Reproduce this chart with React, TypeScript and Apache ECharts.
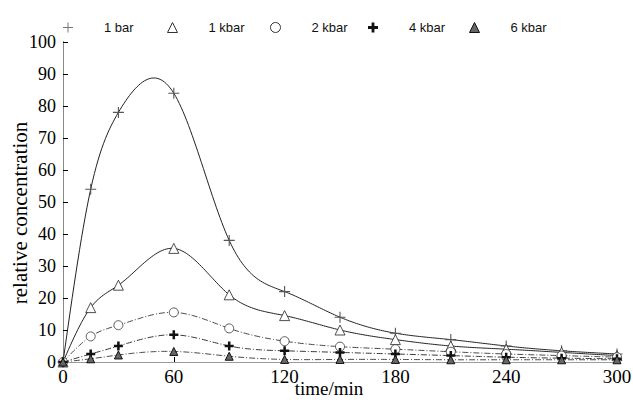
import React, { useEffect, useRef } from "react";
import * as echarts from "echarts";

const times = [0, 15, 30, 60, 90, 120, 150, 180, 210, 240, 270, 300];
const bar1 = [0, 54, 78, 84, 38, 22, 14, 9, 7, 5, 3.5, 2.5];
const kbar1 = [0, 17, 24, 35.5, 21, 14.5, 10, 7, 5, 4, 3, 2];
const kbar2 = [0, 8, 11.5, 15.5, 10.5, 6.5, 4.8, 4, 3.2, 2.5, 2, 1.5];
const kbar4 = [0, 2.5, 5, 8.5, 5, 3.5, 3, 2.5, 2, 1.5, 1.2, 1];
const kbar6 = [0, 1, 2.2, 3.3, 1.8, 0.8, 0.8, 0.8, 0.7, 0.7, 0.7, 0.7];
const seriesNames = ["1 bar", "1 kbar", "2 kbar", "4 kbar", "6 kbar"];
const xName = "time/min";
const yName = "relative concentration";

const PLUS = "path://M4.5,0H5.5V4.5H10V5.5H5.5V10H4.5V5.5H0V4.5H4.5Z";
const BOLDPLUS = "path://M3.6,0H6.4V3.6H10V6.4H6.4V10H3.6V6.4H0V3.6H3.6Z";

const pairs = (vals: number[]) => times.map((t, i) => [t, vals[i]]);

// natural cubic spline through the data points (drawing only)
function makeSpline(xs: number[], ys: number[]) {
  const n = xs.length;
  const h: number[] = [];
  for (let i = 0; i < n - 1; i++) h.push(xs[i + 1] - xs[i]);
  const M = new Array(n).fill(0);
  const a: number[] = [], b: number[] = [], c: number[] = [], d: number[] = [];
  for (let i = 1; i < n - 1; i++) {
    a.push(h[i - 1]);
    b.push(2 * (h[i - 1] + h[i]));
    c.push(h[i]);
    d.push(6 * ((ys[i + 1] - ys[i]) / h[i] - (ys[i] - ys[i - 1]) / h[i - 1]));
  }
  const m = b.length;
  for (let i = 1; i < m; i++) {
    const w = a[i] / b[i - 1];
    b[i] -= w * c[i - 1];
    d[i] -= w * d[i - 1];
  }
  const sol = new Array(m).fill(0);
  for (let i = m - 1; i >= 0; i--) {
    sol[i] = (d[i] - (i < m - 1 ? c[i] * sol[i + 1] : 0)) / b[i];
  }
  for (let i = 0; i < m; i++) M[i + 1] = sol[i];
  return (x: number) => {
    let i = 0;
    while (i < n - 2 && x > xs[i + 1]) i++;
    const hh = h[i];
    const A = xs[i + 1] - x;
    const B = x - xs[i];
    return (
      (M[i] * A * A * A) / (6 * hh) +
      (M[i + 1] * B * B * B) / (6 * hh) +
      (ys[i] / hh - (M[i] * hh) / 6) * A +
      (ys[i + 1] / hh - (M[i + 1] * hh) / 6) * B
    );
  };
}

export default function App() {
  const ref = useRef<HTMLDivElement>(null);
  useEffect(() => {
    if (!ref.current) return;
    const chart = echarts.init(ref.current, undefined, { renderer: "svg" });
    const serif = "Liberation Serif";
    const dashDot = [6, 2, 1, 2];
    const marks = (name: string, vals: number[], symbol: string, size: number, item: any) => ({
      name,
      type: "line",
      data: pairs(vals),
      symbol,
      symbolSize: size,
      showAllSymbol: true,
      itemStyle: item,
      lineStyle: { width: 0, opacity: 0 },
      z: 4,
    });
    const curve = (name: string, vals: number[], stroke: string, dash: any) => {
      const f = makeSpline(times, vals);
      return {
        name: name + " curve",
        type: "custom",
        data: pairs(vals),
        encode: { x: 0, y: 1 },
        z: 2,
        silent: true,
        renderItem: (params: any, api: any) => {
          if (params.dataIndex !== 0) return null;
          const pts: number[][] = [];
          for (let t = 0; t <= 300; t += 1) pts.push(api.coord([t, f(t)]));
          return {
            type: "polyline",
            shape: { points: pts },
            style: { stroke, lineWidth: 1, fill: "none", lineDash: dash },
          };
        },
      };
    };
    const legendIcons: any[] = [
      { icon: PLUS, itemStyle: { color: "#777", borderWidth: 0 } },
      { icon: "triangle", itemStyle: { color: "#fff", borderColor: "#333", borderWidth: 1 } },
      { icon: "circle", itemStyle: { color: "#fff", borderColor: "#333", borderWidth: 1 } },
      { icon: BOLDPLUS, itemStyle: { color: "#111", borderWidth: 0 } },
      { icon: "triangle", itemStyle: { color: "#666", borderColor: "#111", borderWidth: 1 } },
    ];
    const legendCenters = [68, 172, 275, 373, 474];
    const legends = seriesNames.map((name, i) => ({
      top: 16,
      left: legendCenters[i] - 10,
      itemWidth: 10,
      itemHeight: 10,
      data: [{ name, ...legendIcons[i] }],
      textStyle: {
        fontFamily: "Liberation Sans",
        fontSize: 13,
        color: "#111",
        padding: [0, 0, 0, 26],
      },
    }));
    chart.setOption({
      animation: false,
      backgroundColor: "#fff",
      grid: { left: 63, right: 16, top: 42, bottom: 42, containLabel: false, outerBoundsMode: "none" },
      legend: legends,
      graphic: [
        {
          type: "text",
          x: 329,
          y: 388,
          style: {
            text: xName,
            font: "19px 'Liberation Serif'",
            fill: "#000",
            textAlign: "center",
            textVerticalAlign: "middle",
          },
        },
        {
          type: "text",
          x: 20,
          y: 213,
          rotation: Math.PI / 2,
          style: {
            text: yName,
            font: "21px 'Liberation Serif'",
            fill: "#000",
            textAlign: "center",
            textVerticalAlign: "middle",
          },
        },
      ],
      xAxis: [
        {
          type: "value",
          min: 0,
          max: 300,
          interval: 60,
          axisLine: { lineStyle: { color: "#777", type: [2, 1], width: 1 } },
          axisTick: { inside: true, length: 5, lineStyle: { color: "#000" } },
          axisLabel: { fontFamily: serif, fontSize: 19, color: "#000", margin: 5 },
          splitLine: { show: false },
        },
        {
          type: "value",
          position: "top",
          min: 0,
          max: 300,
          axisLine: { show: true, lineStyle: { color: "#999", type: [2, 1] } },
          axisTick: { show: false },
          axisLabel: { show: false },
          splitLine: { show: false },
        },
      ],
      yAxis: [
        {
          type: "value",
          min: 0,
          max: 100,
          interval: 10,
          axisLine: { show: true, lineStyle: { color: "#000", width: 1 } },
          axisTick: { inside: true, length: 5, lineStyle: { color: "#000" } },
          axisLabel: { fontFamily: serif, fontSize: 18, color: "#000", margin: 7 },
          splitLine: { show: false },
        },
        {
          type: "value",
          position: "right",
          min: 0,
          max: 100,
          axisLine: { show: true, lineStyle: { color: "#888", width: 1 } },
          axisTick: { show: false },
          axisLabel: { show: false },
          splitLine: { show: false },
        },
      ],
      series: [
        curve(seriesNames[0], bar1, "#222", "solid"),
        curve(seriesNames[1], kbar1, "#222", "solid"),
        curve(seriesNames[2], kbar2, "#444", dashDot),
        curve(seriesNames[3], kbar4, "#333", dashDot),
        curve(seriesNames[4], kbar6, "#444", dashDot),
        marks(seriesNames[0], bar1, PLUS, 11, { color: "#555", borderWidth: 0 }),
        marks(seriesNames[1], kbar1, "triangle", 10, { color: "#fff", borderColor: "#222", borderWidth: 0.8 }),
        marks(seriesNames[2], kbar2, "circle", 9, { color: "#fff", borderColor: "#333", borderWidth: 0.8 }),
        marks(seriesNames[3], kbar4, BOLDPLUS, 9, { color: "#111", borderWidth: 0 }),
        marks(seriesNames[4], kbar6, "triangle", 8, { color: "#666", borderColor: "#111", borderWidth: 1 }),
      ],
    });
    return () => chart.dispose();
  }, []);
  return (
    <div
      ref={ref}
      style={{ position: "fixed", left: 0, top: 0, width: 633, height: 404 }}
    />
  );
}
